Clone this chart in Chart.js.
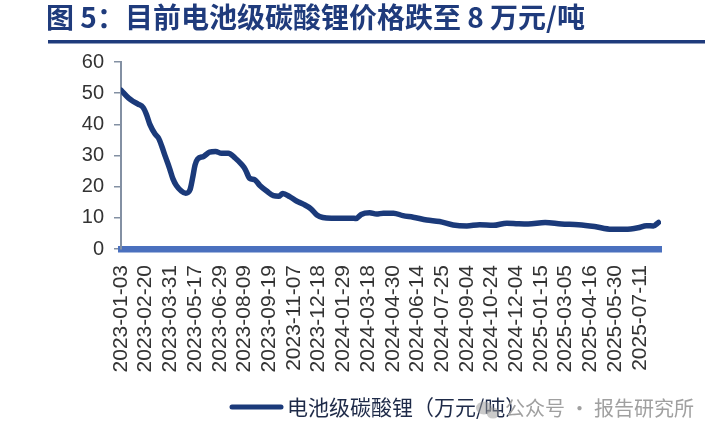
<!DOCTYPE html>
<html>
<head>
<meta charset="utf-8">
<title>电池级碳酸锂价格</title>
<script src="https://cdn.jsdelivr.net/npm/chart.js"></script>
<style>
  html, body { margin: 0; padding: 0; background: #fff; }
  #wrap { position: relative; width: 705px; height: 444px; }
</style>
</head>
<body>
<div id="wrap"><canvas id="chart" width="705" height="444"></canvas></div>
<script>
// 刻度标签（每 29 个交易日一个）
const tickLabels = [
  '2023-01-03', '2023-02-20', '2023-03-31', '2023-05-17', '2023-06-29', '2023-08-09',
  '2023-09-19', '2023-11-07', '2023-12-18', '2024-01-29', '2024-03-18', '2024-04-30',
  '2024-06-14', '2024-07-25', '2024-09-04', '2024-10-24', '2024-12-04', '2025-01-15',
  '2025-03-05', '2025-04-16', '2025-05-30', '2025-07-11'
];
const tickStep = 29;
const lastDay = 634;

// 交易日序号（从 2023-01-03 起）
const tradingDay = [
  0, 9, 14, 20, 26, 30, 34, 40, 44, 48,
  52, 57, 61, 65, 71, 76, 81, 84, 87, 90,
  97, 104, 111, 118, 126, 134, 142, 146, 151, 157,
  163, 171, 179, 185, 190, 198, 206, 214, 223, 230,
  237, 247, 259, 271, 276, 282, 292, 300, 308, 320,
  331, 343, 359, 374, 390, 406, 421, 437, 453, 466,
  478, 498, 517, 537, 556, 576, 592, 607, 617, 625,
  631
];
// 电池级碳酸锂（万元/吨）
const price = [
  51.0, 48.4, 47.4, 46.5, 45.4, 43.1, 39.9, 36.9, 35.6, 32.9,
  29.7, 25.9, 22.5, 20.4, 18.6, 17.9, 19.0, 22.7, 27.0, 28.9,
  29.7, 31.1, 31.3, 30.7, 30.7, 29.2, 27.0, 25.5, 22.7, 22.2,
  20.4, 18.6, 17.1, 16.9, 17.8, 16.8, 15.4, 14.4, 12.9, 10.9,
  10.1, 9.9, 9.9, 9.9, 9.8, 11.1, 11.6, 11.2, 11.5, 11.5,
  10.7, 10.2, 9.3, 8.8, 7.7, 7.4, 7.8, 7.6, 8.3, 8.1,
  8.0, 8.5, 8.0, 7.8, 7.2, 6.3, 6.3, 6.8, 7.5, 7.4,
  8.5
];
const seriesName = '电池级碳酸锂（万元/吨）';
const titleText = '图 5：目前电池级碳酸锂价格跌至 8 万元/吨';

const navy = '#1B3A7A';

// 标题、图例和水印
const decor = {
  id: 'decor',
  afterDraw(chart) {
    const c = chart.ctx;
    c.save();
    c.fillStyle = '#1F3B7C';
    c.font = 'bold 28px "Noto Sans CJK SC", sans-serif';
    c.textBaseline = 'middle';
    c.textAlign = 'left';
    c.fillText(titleText, 46, 17);
    c.fillRect(48, 40, 657, 3.5);

    // 图例
    c.strokeStyle = navy;
    c.lineWidth = 5;
    c.lineCap = 'round';
    c.beginPath();
    c.moveTo(232, 407);
    c.lineTo(281, 407);
    c.stroke();
    c.fillStyle = '#1E2A48';
    c.font = '21px "Noto Sans CJK SC", sans-serif';
    c.fillText(seriesName, 287, 407);

    // 水印
    c.fillStyle = 'rgba(150,150,150,0.5)';
    c.beginPath();
    c.ellipse(484, 408, 8, 6.5, 0, 0, Math.PI * 2);
    c.fill();
    c.beginPath();
    c.ellipse(493, 413, 6.5, 5.5, 0, 0, Math.PI * 2);
    c.fill();
    c.fillStyle = '#A0A0A0';
    c.font = '20px "Noto Sans CJK SC", sans-serif';
    c.fillText('公众号 · 报告研究所', 505, 408);
    c.restore();
  }
};

new Chart(document.getElementById('chart'), {
  type: 'scatter',
  data: {
    datasets: [{
      label: seriesName,
      data: tradingDay.map((d, i) => ({ x: d, y: price[i] })),
      showLine: true,
      borderColor: navy,
      backgroundColor: navy,
      borderWidth: 5.5,
      pointRadius: 0,
      cubicInterpolationMode: 'monotone',
      borderCapStyle: 'round',
      borderJoinStyle: 'round'
    }]
  },
  options: {
    responsive: false,
    animation: false,
    layout: { padding: { left: 0, top: 62, right: 44, bottom: 0 } },
    plugins: {
      legend: { display: false },
      tooltip: { enabled: false }
    },
    scales: {
      x: {
        type: 'linear',
        min: 0,
        max: lastDay,
        afterFit: s => { s.height = 195; },
        afterBuildTicks: s => { s.ticks = tickLabels.map((_, i) => ({ value: i * tickStep })); },
        grid: { display: false },
        border: { display: true, color: '#4A70BE', width: 6.5 },
        ticks: {
          autoSkip: false,
          minRotation: 90,
          maxRotation: 90,
          padding: 8,
          color: '#333',
          font: { family: 'Liberation Sans, Arial, sans-serif', size: 21 },
          callback: v => tickLabels[Math.round(v / tickStep)] || ''
        }
      },
      y: {
        min: 0,
        max: 60,
        afterFit: s => { s.width = 121; },
        grid: {
          display: true,
          drawOnChartArea: false,
          drawTicks: true,
          tickLength: 7,
          color: '#8390A3',
          lineWidth: 1.5
        },
        border: { display: true, color: '#8390A3', width: 2 },
        ticks: {
          stepSize: 10,
          padding: 10,
          color: '#333',
          font: { family: 'Liberation Sans, Arial, sans-serif', size: 20 }
        }
      }
    }
  },
  plugins: [decor]
});
</script>
</body>
</html>
